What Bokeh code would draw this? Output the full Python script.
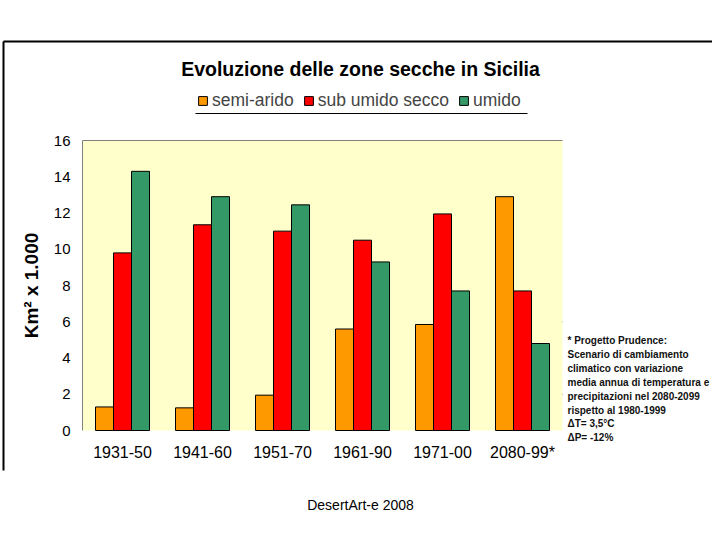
from bokeh.plotting import figure
from bokeh.models import (ColumnDataSource, Range1d, FixedTicker, Label, Arrow,
                          BoxAnnotation)
from bokeh.transform import dodge
from bokeh.embed import file_html
from bokeh.resources import INLINE

# ---- data ----
categories = ["1931-50", "1941-60", "1951-70", "1961-90", "1971-00", "2080-99*"]
semi_arido = [1.3, 1.25, 1.95, 5.6, 5.85, 12.9]
sub_umido_secco = [9.8, 11.35, 11.0, 10.5, 11.95, 7.7]
umido = [14.3, 12.9, 12.45, 9.3, 7.7, 4.8]
series_names = ["semi-arido", "sub umido secco", "umido"]
y_ticks = [0, 2, 4, 6, 8, 10, 12, 14, 16]
grid_ticks = [2, 6]
title_text = "Evoluzione delle zone secche in Sicilia"
y_label = "Km\u00b2 x 1.000"
note_lines = [
    "* Progetto Prudence:",
    "Scenario di cambiamento",
    "climatico con variazione",
    "media annua di temperatura e",
    "precipitazioni nel  2080-2099",
    "rispetto al  1980-1999",
    "\u0394T= 3,5\u00b0C",
    "\u0394P= -12%",
]
credit = "DesertArt-e 2008"

colors = ["#FF9900", "#FF0000", "#339966"]
FONT = "Liberation Sans"

# ---- layout (pixels) ----
W, H = 712, 532
PL, PR, PT, PB = 82, 562, 140, 430          # plot area in canvas pixels
n = len(categories)
ymax = y_ticks[-1]
px_per_cat = (PR - PL) / n
px_per_unit = (PB - PT) / ymax

xc = [i + 0.5 for i in range(n)]
src = ColumnDataSource(dict(xc=xc, semi=semi_arido, sub=sub_umido_secco, umi=umido))

p = figure(width=W, height=H,
           x_range=Range1d(-PL / px_per_cat, (W - PL) / px_per_cat),
           y_range=Range1d(-(H - PB) / px_per_unit, PB / px_per_unit),
           output_backend="svg", toolbar_location=None,
           min_border=0, min_border_left=0, min_border_right=0,
           min_border_top=0, min_border_bottom=0,
           background_fill_color="white", border_fill_color="white",
           outline_line_color=None)
p.title.visible = False

# plot-area background
p.add_layout(BoxAnnotation(left=0, right=n, bottom=0, top=ymax,
                           fill_color="#FFFFCC", fill_alpha=1, line_color=None,
                           level="underlay"))

# gridlines (only 2 and 6, as in the original) and top border
p.segment(x0=[0] * len(grid_ticks), x1=[n] * len(grid_ticks), y0=grid_ticks, y1=grid_ticks,
          line_color="black", line_width=1, level="underlay")
p.segment(x0=[0], x1=[n], y0=[ymax], y1=[ymax], line_color="#808080", line_width=1)

bw = 0.225
for col, off, c, name in zip(["semi", "sub", "umi"], [-bw, 0.0, bw], colors, series_names):
    p.vbar(x=dodge("xc", off), top=col, width=bw, source=src,
           fill_color=c, line_color="black", line_width=1, legend_label=name)

# axes
p.xgrid.visible = False
p.ygrid.visible = False

ya = p.yaxis[0]
ya.fixed_location = 0
ya.bounds = (0, ymax)
ya.ticker = FixedTicker(ticks=y_ticks)
ya.axis_line_color = "#808080"
ya.major_tick_line_color = None
ya.minor_tick_line_color = None
ya.major_tick_out = 0
ya.major_tick_in = 0
ya.minor_tick_out = 0
ya.major_label_standoff = 12
ya.major_label_text_font = FONT
ya.major_label_text_font_size = "15px"
ya.major_label_text_color = "black"
ya.axis_label = y_label
ya.axis_label_text_font = FONT
ya.axis_label_text_font_size = "19px"
ya.axis_label_text_font_style = "bold"
ya.axis_label_text_color = "black"
ya.axis_label_standoff = 9

xa = p.xaxis[0]
xa.fixed_location = 0
xa.bounds = (0, n)
xa.ticker = FixedTicker(ticks=xc)
xa.major_label_overrides = {x: c for x, c in zip(xc, categories)}
xa.axis_line_color = None
xa.major_tick_line_color = None
xa.minor_tick_line_color = None
xa.major_tick_out = 0
xa.major_tick_in = 0
xa.minor_tick_out = 0
xa.major_label_standoff = 13
xa.major_label_text_font = FONT
xa.major_label_text_font_size = "16px"
xa.major_label_text_color = "black"

# legend
leg = p.legend[0]
leg.orientation = "horizontal"
leg.location = (197, H - 111)
leg.label_text_font = FONT
leg.label_text_font_size = "17.5px"
leg.glyph_width = 11
leg.glyph_height = 11
leg.label_standoff = 4
leg.spacing = 9
leg.padding = 0
leg.margin = 0
leg.label_height = 18
leg.border_line_color = None
leg.background_fill_alpha = 0

# legend underline
p.add_layout(Arrow(end=None, x_start=195, y_start=H - 113, x_end=527, y_end=H - 113,
                   start_units="screen", end_units="screen",
                   line_color="black", line_width=1.2))

# title
p.add_layout(Label(x=360, y=H - 68, x_units="screen", y_units="screen", text=title_text,
                   text_align="center", text_baseline="middle", text_font=FONT,
                   text_font_size="19.5px", text_font_style="bold", text_color="black"))

# note
for i, line in enumerate(note_lines):
    p.add_layout(Label(x=567, y=H - (340 + i * 13.9), x_units="screen", y_units="screen",
                       text=line, text_align="left", text_baseline="middle",
                       text_font=FONT, text_font_size="10px", text_font_style="bold",
                       text_color="#111111"))

# credit
p.add_layout(Label(x=360, y=H - 504, x_units="screen", y_units="screen", text=credit,
                   text_align="center", text_baseline="middle", text_font=FONT,
                   text_font_size="14px", text_color="black"))

# slide frame lines
p.add_layout(Arrow(end=None, x_start=3, y_start=H - 41, x_end=3, y_end=H - 470,
                   start_units="screen", end_units="screen",
                   line_color="black", line_width=2))
p.add_layout(Arrow(end=None, x_start=3, y_start=H - 41, x_end=W, y_end=H - 41,
                   start_units="screen", end_units="screen",
                   line_color="black", line_width=2))

open("out.html", "w").write(file_html(p, INLINE))
